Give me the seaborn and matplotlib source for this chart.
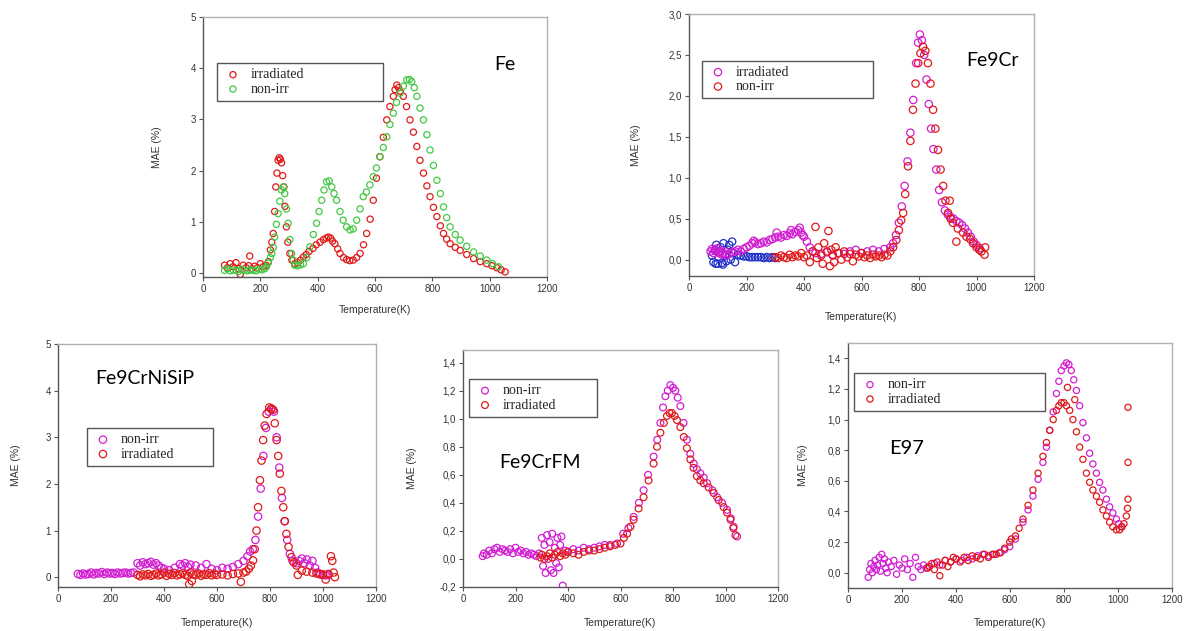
import matplotlib
matplotlib.use("Agg")
import matplotlib.pyplot as plt
import pandas as pd
import seaborn as sns
from matplotlib.ticker import FuncFormatter, MultipleLocator

# ---- data: (temperature K, MAE %) ----
fe_irr = [(75, 0.15), (85, 0.1), (95, 0.18), (105, 0.12), (115, 0.2), (125, 0.08), (130, -0.03),
          (140, 0.15), (150, 0.1), (160, 0.14), (163, 0.33), (170, 0.08), (180, 0.13), (190, 0.1),
          (200, 0.18), (210, 0.12), (220, 0.15), (228, 0.22), (235, 0.45), (240, 0.6), (245, 0.77),
          (250, 1.2), (254, 1.68), (258, 1.95), (262, 2.2), (266, 2.25), (270, 2.22), (274, 2.15),
          (278, 1.9), (282, 1.68), (286, 1.3), (291, 0.9), (296, 0.6), (303, 0.38), (310, 0.25),
          (320, 0.18), (330, 0.2), (340, 0.25), (350, 0.31), (360, 0.36), (370, 0.42), (384, 0.48),
          (395, 0.55), (408, 0.6), (420, 0.65), (430, 0.68), (437, 0.7), (445, 0.68), (452, 0.62),
          (460, 0.57), (470, 0.47), (478, 0.38), (490, 0.3), (501, 0.26), (512, 0.24), (524, 0.25),
          (536, 0.3), (548, 0.38), (560, 0.55), (571, 0.77), (583, 1.05), (594, 1.42), (605, 1.85),
          (617, 2.27), (629, 2.65), (641, 2.99), (652, 3.25), (664, 3.45), (670, 3.58), (676, 3.67),
          (682, 3.62), (688, 3.55), (699, 3.45), (710, 3.25), (722, 2.99), (734, 2.75), (746, 2.47),
          (757, 2.2), (769, 1.95), (781, 1.7), (792, 1.49), (804, 1.28), (816, 1.1), (828, 0.92),
          (839, 0.77), (850, 0.66), (862, 0.57), (880, 0.5), (897, 0.44), (920, 0.36), (944, 0.28),
          (967, 0.22), (990, 0.18), (1008, 0.14), (1025, 0.1), (1040, 0.06), (1054, 0.02)]
fe_non = [(75, 0.05), (85, 0.08), (95, 0.04), (105, 0.06), (115, 0.05), (125, 0.03), (135, 0.07),
          (145, 0.05), (155, 0.04), (165, 0.06), (175, 0.05), (185, 0.04), (195, 0.07), (205, 0.06),
          (215, 0.08), (221, 0.12), (228, 0.2), (235, 0.3), (240, 0.38), (245, 0.5), (250, 0.7),
          (256, 0.95), (262, 1.16), (268, 1.4), (274, 1.62), (280, 1.68), (285, 1.55), (291, 1.25),
          (297, 0.97), (303, 0.65), (309, 0.38), (315, 0.25), (320, 0.15), (330, 0.14), (340, 0.16),
          (350, 0.18), (362, 0.3), (373, 0.51), (385, 0.75), (396, 0.97), (405, 1.2), (414, 1.42),
          (422, 1.62), (431, 1.78), (440, 1.8), (449, 1.68), (457, 1.55), (466, 1.42), (478, 1.2),
          (489, 1.03), (501, 0.9), (513, 0.84), (524, 0.86), (536, 1.03), (548, 1.25), (559, 1.49),
          (570, 1.58), (582, 1.72), (594, 1.88), (605, 2.05), (617, 2.27), (629, 2.45), (641, 2.66),
          (652, 2.9), (664, 3.12), (675, 3.33), (687, 3.51), (699, 3.65), (711, 3.77), (720, 3.78),
          (728, 3.74), (737, 3.62), (746, 3.45), (757, 3.22), (769, 2.99), (781, 2.7), (792, 2.4),
          (804, 2.1), (816, 1.81), (828, 1.55), (839, 1.29), (850, 1.08), (862, 0.9), (880, 0.75),
          (897, 0.64), (920, 0.52), (944, 0.41), (967, 0.33), (990, 0.25), (1010, 0.18), (1031, 0.12)]

fe9cr_low = [(80, 0.05), (85, -0.03), (90, 0.12), (93, -0.05), (95, 0.18), (100, -0.05), (105, 0.1),
             (110, 0.15), (115, -0.04), (118, -0.06), (120, 0.2), (125, 0.05), (130, -0.02), (135, 0.12),
             (140, 0.18), (145, 0.0), (150, 0.22), (155, 0.08), (160, -0.03), (170, 0.06), (180, 0.05),
             (190, 0.04), (200, 0.04), (210, 0.03), (220, 0.03), (230, 0.03), (240, 0.03), (250, 0.03),
             (260, 0.02), (270, 0.03), (280, 0.02), (290, 0.03), (300, 0.02)]
fe9cr_irr = [(75, 0.1), (80, 0.13), (85, 0.08), (90, 0.12), (95, 0.1), (100, 0.14), (105, 0.08),
             (110, 0.1), (115, 0.06), (120, 0.08), (125, 0.1), (130, 0.05), (140, 0.07), (150, 0.09),
             (160, 0.1), (170, 0.12), (180, 0.1), (190, 0.13), (200, 0.15), (210, 0.17), (220, 0.2),
             (225, 0.23), (230, 0.21), (240, 0.19), (250, 0.2), (260, 0.22), (270, 0.21), (280, 0.24),
             (290, 0.25), (300, 0.27), (305, 0.33), (310, 0.28), (320, 0.27), (330, 0.3), (340, 0.29),
             (350, 0.32), (355, 0.36), (360, 0.31), (370, 0.34), (380, 0.36), (385, 0.39), (390, 0.33),
             (395, 0.3), (400, 0.28), (410, 0.22), (420, 0.15), (430, 0.1), (440, 0.08), (460, 0.07),
             (480, 0.09), (500, 0.06), (520, 0.08), (540, 0.07), (560, 0.1), (580, 0.12), (600, 0.08),
             (620, 0.1), (640, 0.12), (660, 0.1), (680, 0.13), (700, 0.15), (710, 0.2), (720, 0.3),
             (730, 0.45), (740, 0.65), (750, 0.9), (760, 1.2), (770, 1.55), (780, 1.95), (790, 2.4),
             (797, 2.65), (803, 2.75), (810, 2.68), (818, 2.5), (826, 2.2), (834, 1.9), (842, 1.6),
             (850, 1.35), (860, 1.1), (870, 0.85), (880, 0.7), (890, 0.6), (900, 0.55), (910, 0.52),
             (920, 0.5), (930, 0.47), (940, 0.45), (950, 0.42), (960, 0.38), (970, 0.33), (980, 0.28),
             (990, 0.22), (1000, 0.18), (1011, 0.14)]
fe9cr_non = [(300, 0.03), (310, 0.02), (320, 0.05), (330, 0.03), (340, 0.02), (350, 0.06), (360, 0.03),
             (370, 0.05), (380, 0.04), (390, 0.08), (400, 0.03), (410, 0.05), (420, -0.03), (430, 0.1),
             (440, 0.4), (445, 0.02), (450, 0.15), (460, 0.05), (465, -0.05), (470, 0.2), (480, 0.1),
             (485, 0.35), (490, -0.08), (495, 0.12), (500, 0.05), (505, -0.03), (510, 0.15), (520, 0.08),
             (530, 0.0), (540, 0.1), (550, 0.03), (560, 0.07), (570, -0.02), (580, 0.06), (590, 0.04),
             (600, 0.08), (610, 0.03), (620, 0.05), (630, 0.02), (640, 0.06), (650, 0.04), (660, 0.05),
             (670, 0.03), (680, 0.06), (690, 0.05), (700, 0.1), (710, 0.15), (721, 0.24), (730, 0.36),
             (738, 0.48), (745, 0.57), (752, 0.8), (762, 1.14), (770, 1.45), (779, 1.83), (788, 2.15),
             (797, 2.4), (805, 2.52), (814, 2.6), (822, 2.55), (831, 2.4), (840, 2.15), (849, 1.83),
             (857, 1.6), (866, 1.34), (875, 1.1), (884, 0.9), (892, 0.72), (901, 0.57), (907, 0.72),
             (910, 0.5), (918, 0.45), (930, 0.22), (935, 0.38), (953, 0.33), (965, 0.28), (978, 0.25),
             (988, 0.2), (1000, 0.15), (1010, 0.12), (1017, 0.1), (1028, 0.06), (1030, 0.15)]

nisip_non = [(75, 0.07), (85, 0.05), (95, 0.08), (105, 0.06), (115, 0.07), (125, 0.1), (135, 0.06),
             (145, 0.09), (155, 0.08), (165, 0.11), (175, 0.07), (185, 0.1), (195, 0.08), (205, 0.09),
             (215, 0.07), (225, 0.1), (235, 0.08), (245, 0.09), (255, 0.1), (265, 0.08), (275, 0.09),
             (285, 0.1), (300, 0.3), (310, 0.25), (320, 0.32), (330, 0.28), (340, 0.3), (350, 0.33),
             (360, 0.27), (370, 0.3), (380, 0.25), (390, 0.2), (400, 0.18), (420, 0.15), (440, 0.2),
             (460, 0.28), (470, 0.25), (480, 0.3), (490, 0.22), (500, 0.27), (520, 0.25), (540, 0.2),
             (560, 0.28), (580, 0.18), (600, 0.15), (620, 0.2), (640, 0.18), (660, 0.22), (680, 0.28),
             (700, 0.35), (715, 0.45), (725, 0.55), (735, 0.6), (745, 0.8), (755, 1.3), (765, 1.9),
             (775, 2.6), (785, 3.2), (795, 3.55), (805, 3.6), (815, 3.55), (825, 3.0), (835, 2.35),
             (845, 1.7), (855, 1.2), (865, 0.8), (875, 0.5), (885, 0.35), (900, 0.3), (910, 0.35),
             (920, 0.4), (930, 0.3), (940, 0.38), (950, 0.25), (960, 0.35), (970, 0.2), (980, 0.1),
             (990, 0.06), (1000, 0.05), (1010, 0.04), (1020, 0.05)]
nisip_irr = [(300, 0.05), (310, 0.02), (320, 0.06), (330, 0.04), (340, 0.07), (350, 0.03), (360, 0.05),
             (370, 0.08), (380, 0.04), (390, 0.06), (400, 0.1), (410, 0.03), (420, 0.07), (430, 0.05),
             (440, 0.09), (450, 0.04), (460, 0.06), (470, 0.08), (480, 0.05), (490, 0.03), (495, -0.15),
             (500, 0.1), (505, -0.08), (510, 0.06), (520, 0.05), (530, 0.08), (540, 0.03), (550, 0.06),
             (560, 0.05), (570, 0.09), (580, 0.04), (590, 0.07), (600, 0.05), (620, 0.06), (640, 0.04),
             (660, 0.07), (680, 0.08), (690, -0.1), (700, 0.1), (710, 0.12), (720, 0.18), (728, 0.25),
             (736, 0.36), (742, 0.6), (749, 1.0), (755, 1.5), (762, 2.08), (768, 2.5), (774, 2.94),
             (780, 3.25), (787, 3.5), (797, 3.64), (805, 3.62), (812, 3.59), (818, 3.3), (825, 2.94),
             (831, 2.6), (837, 2.22), (843, 1.85), (850, 1.5), (856, 1.2), (862, 0.93), (870, 0.65),
             (881, 0.43), (890, 0.32), (900, 0.25), (905, 0.05), (920, 0.14), (938, 0.12), (960, 0.1),
             (975, 0.08), (988, 0.07), (1000, 0.06), (1010, -0.05), (1020, 0.07), (1030, 0.45),
             (1035, 0.35), (1040, 0.1), (1045, 0.0)]

fm_non = [(75, 0.02), (80, 0.04), (90, 0.03), (100, 0.06), (110, 0.04), (120, 0.07), (130, 0.08),
          (140, 0.05), (150, 0.07), (160, 0.06), (170, 0.05), (180, 0.07), (190, 0.04), (200, 0.08),
          (210, 0.05), (220, 0.06), (230, 0.04), (240, 0.05), (250, 0.03), (260, 0.04), (270, 0.03),
          (280, 0.02), (290, 0.04), (300, 0.15), (305, -0.05), (310, 0.1), (315, -0.1), (320, 0.17),
          (325, 0.0), (330, 0.12), (335, -0.08), (340, 0.18), (345, -0.1), (350, 0.08), (355, -0.03),
          (360, 0.15), (365, -0.06), (370, 0.1), (375, 0.16), (380, -0.19), (390, 0.06), (400, 0.05),
          (420, 0.07), (440, 0.06), (460, 0.08), (480, 0.07), (500, 0.08), (520, 0.09), (540, 0.1),
          (560, 0.1), (587, 0.11), (610, 0.18), (630, 0.22), (650, 0.3), (670, 0.4), (688, 0.49),
          (705, 0.6), (726, 0.73), (740, 0.85), (752, 0.97), (762, 1.08), (771, 1.16), (780, 1.2),
          (790, 1.24), (800, 1.22), (809, 1.2), (818, 1.15), (828, 1.09), (840, 0.97), (853, 0.85),
          (866, 0.75), (879, 0.68), (891, 0.64), (904, 0.61), (917, 0.58), (930, 0.54), (950, 0.49),
          (968, 0.44), (987, 0.4), (1006, 0.35), (1020, 0.29), (1031, 0.23), (1044, 0.16)]
fm_irr = [(295, 0.01), (300, 0.03), (310, 0.0), (320, 0.02), (330, 0.04), (340, 0.01), (350, 0.03),
          (360, 0.05), (370, 0.02), (380, 0.04), (390, 0.03), (400, 0.05), (420, 0.04), (440, 0.03),
          (460, 0.05), (480, 0.06), (500, 0.06), (520, 0.07), (540, 0.08), (560, 0.09), (580, 0.1),
          (600, 0.11), (613, 0.15), (625, 0.18), (638, 0.23), (650, 0.28), (669, 0.36), (688, 0.44),
          (707, 0.56), (726, 0.68), (739, 0.8), (752, 0.9), (765, 0.97), (777, 1.02), (787, 1.04),
          (796, 1.04), (806, 1.02), (815, 0.99), (828, 0.94), (841, 0.87), (853, 0.79), (866, 0.71),
          (878, 0.65), (891, 0.59), (904, 0.56), (917, 0.54), (936, 0.51), (955, 0.47), (974, 0.42),
          (993, 0.37), (1006, 0.33), (1019, 0.28), (1030, 0.22), (1038, 0.17)]

e97_non = [(75, -0.03), (80, 0.02), (85, 0.06), (90, 0.0), (95, 0.04), (100, 0.08), (105, 0.02),
           (110, 0.05), (115, 0.1), (120, 0.01), (125, 0.12), (130, 0.06), (135, 0.09), (140, 0.03),
           (145, 0.0), (150, 0.07), (160, 0.04), (170, 0.08), (180, -0.01), (190, 0.05), (200, 0.03),
           (210, 0.09), (220, 0.02), (230, 0.06), (240, -0.03), (250, 0.1), (260, 0.04), (270, 0.02),
           (280, 0.05), (290, 0.03), (300, 0.04), (320, 0.06), (340, 0.05), (360, 0.08), (380, 0.07),
           (400, 0.09), (420, 0.08), (440, 0.1), (460, 0.09), (480, 0.11), (500, 0.12), (520, 0.11),
           (540, 0.12), (560, 0.13), (580, 0.15), (599, 0.17), (620, 0.22), (648, 0.33), (667, 0.41),
           (685, 0.5), (704, 0.61), (722, 0.72), (735, 0.82), (747, 0.93), (760, 1.05), (772, 1.17),
           (781, 1.25), (790, 1.32), (800, 1.35), (809, 1.37), (818, 1.36), (827, 1.32), (836, 1.26),
           (846, 1.19), (858, 1.09), (870, 0.98), (883, 0.88), (895, 0.78), (907, 0.71), (920, 0.65),
           (932, 0.59), (944, 0.54), (957, 0.48), (969, 0.43), (981, 0.39), (994, 0.35), (1003, 0.32),
           (1012, 0.3)]
e97_irr = [(295, 0.03), (302, 0.04), (310, 0.06), (320, 0.02), (330, 0.07), (340, -0.02), (350, 0.05),
           (360, 0.08), (370, 0.04), (380, 0.07), (390, 0.1), (401, 0.09), (415, 0.07), (430, 0.1),
           (445, 0.08), (460, 0.11), (475, 0.1), (490, 0.09), (505, 0.12), (520, 0.1), (535, 0.12),
           (549, 0.12), (565, 0.13), (580, 0.16), (599, 0.2), (605, 0.22), (620, 0.24), (634, 0.29),
           (648, 0.35), (667, 0.44), (685, 0.54), (704, 0.65), (722, 0.76), (735, 0.85), (747, 0.93),
           (760, 1.0), (772, 1.06), (781, 1.09), (790, 1.11), (800, 1.11), (809, 1.09), (813, 1.21),
           (821, 1.06), (833, 1.0), (840, 1.13), (846, 0.92), (858, 0.82), (870, 0.74), (883, 0.65),
           (895, 0.59), (907, 0.54), (920, 0.5), (932, 0.46), (944, 0.41), (957, 0.37), (969, 0.33),
           (981, 0.3), (994, 0.28), (1006, 0.28), (1015, 0.3), (1022, 0.32), (1031, 0.37), (1035, 0.42),
           (1037, 0.48), (1037, 0.72), (1037, 1.08)]

RED = "#e01a1a"
GREEN = "#44c844"
MAGENTA = "#d21ed2"
BLUE = "#1e2ec8"
W, H = 1186, 631

sns.set_style("white")
plt.rcParams["font.family"] = ["Liberation Sans", "DejaVu Sans"]
fig = plt.figure(figsize=(W / 100, H / 100), dpi=100)


def to_df(points):
    return pd.DataFrame(points, columns=["T", "MAE"])


def make_panel(box, ylim, yticks, comma):
    left, right, top, bottom = box
    ax = fig.add_axes([left / W, 1 - bottom / H, (right - left) / W, (bottom - top) / H])
    ax.set_xlim(0, 1200)
    ax.set_ylim(*ylim)
    ax.xaxis.set_major_locator(MultipleLocator(200))
    ax.set_yticks(yticks)
    if comma:
        ax.yaxis.set_major_formatter(FuncFormatter(lambda v, p: f"{v:.1f}".replace(".", ",")))
    else:
        ax.yaxis.set_major_formatter(FuncFormatter(lambda v, p: f"{v:.0f}"))
    ax.tick_params(direction="out", length=3, width=0.8, color="#555555",
                   labelcolor="#333333", labelsize=7, pad=2, bottom=True, left=True)
    for side in ["left", "bottom"]:
        ax.spines[side].set_color("#555555")
        ax.spines[side].set_linewidth(1.0)
    for side in ["top", "right"]:
        ax.spines[side].set_color("#b0b0b0")
        ax.spines[side].set_linewidth(1.0)
    return ax


def scatter(ax, points, color, size):
    d = to_df(points)
    sns.scatterplot(data=d, x="T", y="MAE", ax=ax, marker="o", s=size,
                    facecolor="none", edgecolor=color, linewidth=0.9, legend=False)
    return ax.collections[-1]


def finish(ax, box, handles, labels, legbox, title, title_xy, title_size,
           xlab_y, ylab_x):
    left, right, top, bottom = box
    w, h = right - left, bottom - top
    x0, y0, x1, y1 = legbox
    leg = ax.legend(handles, labels, loc="center left", mode="expand",
                    bbox_to_anchor=((x0 - left) / w, (bottom - y1) / h, (x1 - x0) / w, (y1 - y0) / h),
                    borderaxespad=0, fancybox=False, frameon=True, edgecolor="#555555",
                    prop={"family": ["Liberation Serif"], "size": 10},
                    borderpad=0.35, labelspacing=0.1, handlelength=1.6, handletextpad=0.5)
    leg.get_frame().set_linewidth(1.0)
    leg.get_frame().set_alpha(1)
    ax.set_xlabel("Temperature(K)", fontsize=7.5, color="#333333")
    ax.set_ylabel("MAE (%)", fontsize=7.5, color="#333333")
    # label coords: top edge of the x label, right edge of the y label
    ax.xaxis.set_label_coords(0.5, (bottom - (xlab_y - 5)) / h)
    ax.yaxis.set_label_coords((ylab_x + 5 - left) / w, 0.5)
    fig.text(title_xy[0] / W, 1 - title_xy[1] / H, title, fontsize=title_size,
             family=["Lato", "DejaVu Sans"], ha="center", va="center", color="black")


# Fe
box1 = (203, 547, 17, 277)
ax1 = make_panel(box1, (-0.08, 5), [0, 1, 2, 3, 4, 5], False)
h_irr = scatter(ax1, fe_irr, RED, 20)
h_non = scatter(ax1, fe_non, GREEN, 20)
finish(ax1, box1, [h_irr, h_non], ["irradiated", "non-irr"], (217, 61, 383, 103),
       "Fe", (505, 65), 14, 310, 157)

# Fe9Cr
box2 = (689, 1034, 14, 276)
ax2 = make_panel(box2, (-0.2, 3.0), [0, 0.5, 1.0, 1.5, 2.0, 2.5, 3.0], True)
scatter(ax2, fe9cr_low, BLUE, 28)
h_irr = scatter(ax2, fe9cr_irr, MAGENTA, 28)
h_non = scatter(ax2, fe9cr_non, RED, 28)
finish(ax2, box2, [h_irr, h_non], ["irradiated", "non-irr"], (702, 58, 873, 101),
       "Fe9Cr", (992, 60), 14, 317, 636)

# Fe9CrNiSiP
box3 = (58, 376, 344, 587)
ax3 = make_panel(box3, (-0.21, 5), [0, 1, 2, 3, 4, 5], False)
h_non = scatter(ax3, nisip_non, MAGENTA, 28)
h_irr = scatter(ax3, nisip_irr, RED, 28)
finish(ax3, box3, [h_non, h_irr], ["non-irr", "irradiated"], (87, 429, 213, 465),
       "Fe9CrNiSiP", (145, 378), 14, 623, 16)

# Fe9CrFM
box4 = (463, 778, 350, 587)
ax4 = make_panel(box4, (-0.2, 1.49), [-0.2, 0, 0.2, 0.4, 0.6, 0.8, 1.0, 1.2, 1.4], True)
h_non = scatter(ax4, fm_non, MAGENTA, 24)
h_irr = scatter(ax4, fm_irr, RED, 24)
finish(ax4, box4, [h_non, h_irr], ["non-irr", "irradiated"], (469, 379, 597, 417),
       "Fe9CrFM", (540, 462), 14, 623, 412)

# E97
box5 = (848, 1172, 343, 588)
ax5 = make_panel(box5, (-0.1, 1.5), [0, 0.2, 0.4, 0.6, 0.8, 1.0, 1.2, 1.4], True)
h_non = scatter(ax5, e97_non, MAGENTA, 20)
h_irr = scatter(ax5, e97_irr, RED, 20)
finish(ax5, box5, [h_non, h_irr], ["non-irr", "irradiated"], (854, 372, 1045, 412),
       "E97", (907, 448), 14.5, 623, 803)

fig.savefig("out.png", dpi=100)
